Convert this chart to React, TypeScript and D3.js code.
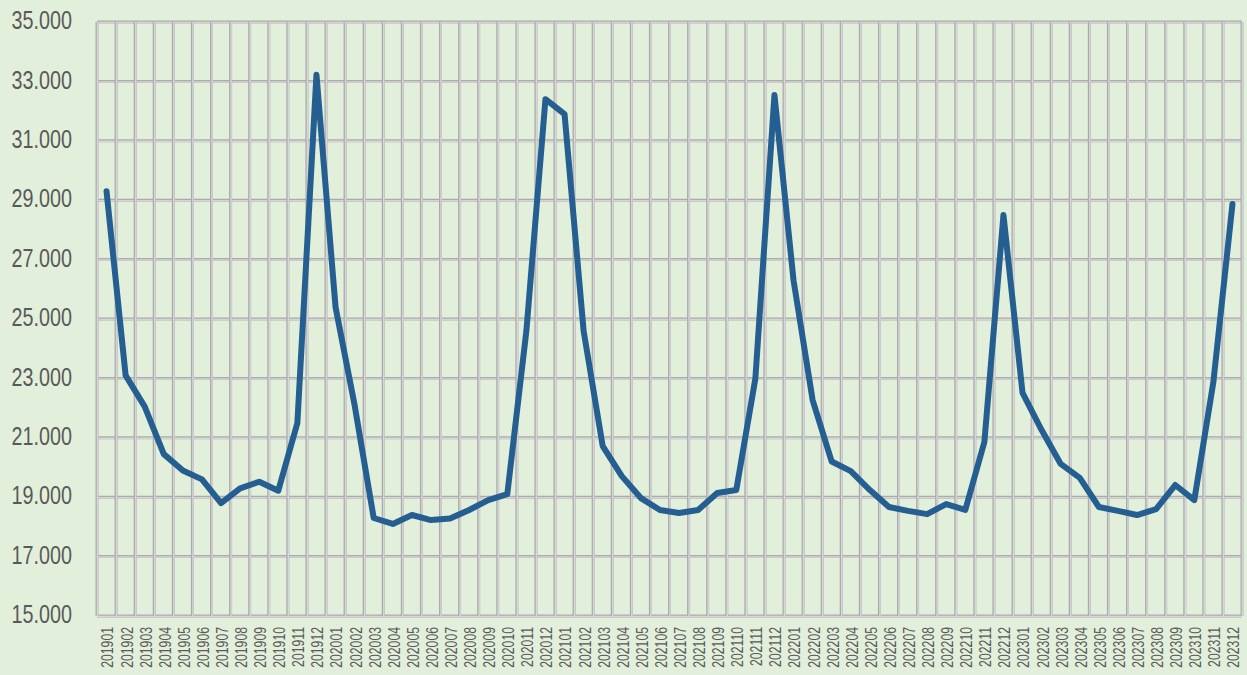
import React from "react";
import * as d3 from "d3";

const categories: string[] = [];
const years = [2019, 2020, 2021, 2022, 2023];
for (const y of years) for (let m = 1; m <= 12; m++) categories.push(`${y}${m < 10 ? "0" + m : m}`);

const values2019 = [29.3, 23.1, 22.05, 20.45, 19.9, 19.6, 18.8, 19.3, 19.52, 19.22, 21.5, 33.22];
const values2020 = [25.4, 22.1, 18.3, 18.1, 18.4, 18.23, 18.28, 18.57, 18.9, 19.1, 24.6, 32.4];
const values2021 = [31.9, 24.6, 20.72, 19.71, 18.97, 18.57, 18.47, 18.57, 19.14, 19.24, 23.0, 32.54];
const values2022 = [26.3, 22.27, 20.2, 19.88, 19.24, 18.67, 18.54, 18.43, 18.77, 18.57, 20.86, 28.5];
const values2023 = [22.51, 21.26, 20.12, 19.65, 18.67, 18.54, 18.4, 18.6, 19.41, 18.9, 22.88, 28.87];
const values = [...values2019, ...values2020, ...values2021, ...values2022, ...values2023];

const yTicks = [15, 17, 19, 21, 23, 25, 27, 29, 31, 33, 35];

const W = 1247, H = 675;
const left = 97, right = 1242, top = 22, bottom = 616;

export default function App() {
  const x = d3.scaleBand<string>().domain(categories).range([left, right]).padding(0);
  const y = d3.scaleLinear().domain([15, 35]).range([bottom, top]);
  const line = d3
    .line<number>()
    .x((_, i) => (x(categories[i]) as number) + x.bandwidth() / 2)
    .y((d) => y(d));
  const fmt = (v: number) => v.toFixed(3);
  const vLines = categories.map((c) => x(c) as number).concat([right]);
  const font = "'Liberation Sans', Arial, sans-serif";
  return (
    <div style={{ position: "fixed", left: 0, top: 0, width: W, height: H, background: "#E2EFDA" }}>
      <svg width={W} height={H} style={{ display: "block" }}>
        <rect x={0} y={0} width={W} height={H} fill="#E2EFDA" />
        <g>
          {yTicks.map((t) => (
            <g key={"h" + t}>
              <line x1={left} x2={right} y1={y(t)} y2={y(t)} stroke="#ABABAB" strokeWidth={3} />
              <line x1={left} x2={right} y1={y(t) + 0.5} y2={y(t) + 0.5} stroke="#D6D6D6" strokeWidth={1.5} />
            </g>
          ))}
          {vLines.map((vx, i) => (
            <g key={"v" + i}>
              <line x1={vx} x2={vx} y1={top} y2={bottom} stroke="#ABABAB" strokeWidth={3} />
              <line x1={vx + 0.5} x2={vx + 0.5} y1={top} y2={bottom} stroke="#D6D6D6" strokeWidth={1.5} />
            </g>
          ))}
        </g>
        <path d={line(values) || ""} fill="none" stroke="#255E91" strokeWidth={6} strokeLinejoin="round" strokeLinecap="round" />
        {yTicks.map((t) => (
          <text
            key={"yl" + t}
            transform={`translate(72,${y(t) - 2}) scale(0.76,1)`}
            dy="0.35em"
            textAnchor="end"
            fontFamily={font}
            fontSize={26}
            fill="#595959"
          >
            {fmt(t)}
          </text>
        ))}
        {categories.map((c) => {
          const cx = (x(c) as number) + x.bandwidth() / 2;
          return (
            <text
              key={"xl" + c}
              transform={`translate(${cx + 1},${627}) rotate(-90) scale(0.72,1)`}
              dy="0.35em"
              textAnchor="end"
              fontFamily={font}
              fontSize={17}
              fill="#595959"
            >
              {c}
            </text>
          );
        })}
      </svg>
    </div>
  );
}
